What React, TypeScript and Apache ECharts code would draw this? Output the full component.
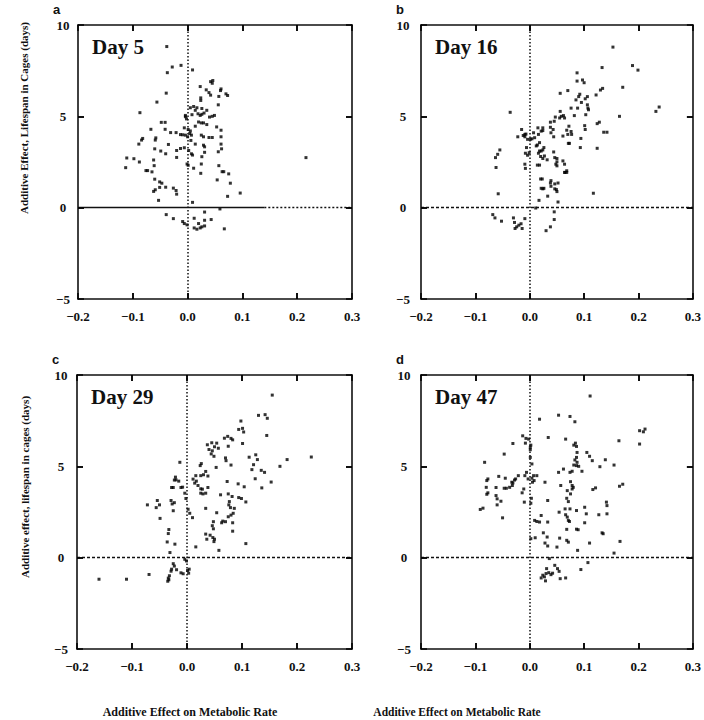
import React, { useEffect, useRef } from "react";
import * as echarts from "echarts";

// x: additive effect on metabolic rate, y: additive effect on lifespan (days)
const day5: number[][] = [
  [-0.038,8.82],[-0.037,7.39],[-0.028,7.70],[-0.012,7.79],[0.009,7.54],
  [0.042,6.90],[0.046,6.96],[0.045,6.81],
  [0.023,6.63],[0.034,6.45],[0.039,6.30],[0.042,6.16],[0.061,6.50],[0.060,6.41],[0.070,6.23],[0.073,6.14],[-0.039,6.27],[0.024,6.01],[0.024,5.87],[0.057,6.09],
  [-0.056,5.78],[0.056,5.63],[0.005,5.47],[0.011,5.54],[0.017,5.47],[0.019,5.14],[0.014,5.33],[0.026,5.43],[0.030,5.18],[0.035,5.33],[0.023,5.05],[0.026,5.11],[0.040,4.96],[0.045,5.00],[0.049,5.05],[-0.087,5.20],[-0.004,4.98],[-0.002,4.86],[0.008,5.09],[-0.004,5.05],
  [-0.048,4.67],[-0.041,4.67],[0.053,4.42],[0.061,4.24],[0.035,4.55],[0.029,4.64],[0.025,4.64],[0.020,4.69],[0.014,4.46],[-0.067,4.29],[-0.041,4.29],[-0.031,4.11],[-0.021,4.11],[-0.006,4.37],[0.001,4.28],[0.005,4.20],[-0.013,4.00],[-0.009,3.99],[-0.004,3.97],[0.0,3.88],[0.004,4.06],[0.007,3.97],[0.025,3.97],[0.029,3.88],[0.039,3.84],[0.045,3.84],[0.061,3.88],[-0.082,3.79],[-0.058,3.82],
  [-0.084,3.70],[-0.059,3.70],[-0.089,3.48],[-0.035,3.46],[0.006,3.68],[0.014,3.48],[0.029,3.42],[0.031,3.33],[0.061,3.48],[0.062,3.22],[0.056,3.06],[-0.060,3.22],[-0.049,3.10],[-0.040,2.95],[-0.020,3.13],[-0.013,3.24],[-0.006,3.28],[0.002,3.13],[0.007,2.95],[0.009,2.88],[0.031,3.03],[0.026,2.79],[-0.111,2.72],[-0.098,2.68],[-0.062,2.61],[-0.020,2.75],
  [-0.113,2.19],[-0.088,2.50],[-0.061,2.30],[-0.076,2.03],[-0.073,2.03],[-0.065,1.96],[-0.001,2.39],[0.001,2.32],[0.011,2.16],[0.025,2.39],[0.024,1.88],[0.057,2.30],[0.063,1.97],[0.066,1.97],[0.075,1.85],[0.054,1.52],[0.078,1.34],[-0.060,1.56],[-0.051,1.41],[-0.047,1.34],
  [-0.062,0.89],[-0.059,0.98],[-0.051,1.11],[-0.040,1.12],[-0.026,1.07],[-0.021,0.94],[-0.020,0.74],[-0.053,0.40],[0.009,0.29],[0.073,0.62],[0.096,0.80],[0.216,2.74],
  [-0.039,-0.38],[-0.026,-0.60],[-0.009,-0.76],[-0.006,-0.87],[-0.001,-0.94],[0.012,-0.58],[0.012,-1.11],[0.017,-1.18],[0.020,-0.87],[0.023,-1.11],[0.026,-1.05],[0.031,-1.00],[0.031,-0.69],[0.031,-0.24],[0.043,-0.65],[0.059,-0.07],[0.067,-1.16]
];

const day16: number[][] = [
  [-0.036,5.22],[0.153,8.79],[0.189,7.78],[0.199,7.53],[0.133,7.67],[0.171,6.59],[0.087,7.38],[0.097,6.99],[0.100,6.84],[0.087,6.93],[0.070,6.41],[0.056,6.26],[0.134,6.53],[0.130,6.44],[0.122,6.17],[0.092,6.21],[0.090,6.08],[0.106,6.08],[0.102,5.96],[0.085,5.90],[0.095,5.76],[0.106,5.63],[0.107,5.45],[0.108,5.36],[0.076,5.45],[0.088,5.45],[0.103,5.09],[0.082,5.04],[0.056,5.27],[0.058,5.00],[0.055,4.91],[0.062,5.04],[0.064,4.91],[0.047,4.96],[0.045,4.73],[0.038,4.68],[0.038,4.40],[0.039,4.10],[0.232,5.27],[0.238,5.51],[0.165,5.00],[0.128,4.68],[0.124,4.60],[0.101,4.49],[0.102,4.28],[0.136,4.13],[0.142,4.13],[0.124,3.25],[0.094,3.79],[0.093,3.29],[0.072,4.46],[0.068,4.24],[0.070,4.01],[0.061,3.92],[0.076,4.17],[0.077,4.01],[0.071,3.52],[0.073,3.52],[0.043,4.28],[0.044,3.88],[0.024,4.37],[0.024,4.22],[0.015,4.37],[0.021,4.19],[0.016,4.01],[0.007,4.10],[0.009,3.83],[0.004,3.77],[0.001,3.74],[-0.004,3.74],[-0.009,4.01],[-0.012,3.95],[-0.009,3.88],[-0.022,3.88],[-0.015,4.28],[-0.007,4.03],[-0.006,3.29],[-0.008,2.98],[-0.004,2.87],[-0.009,2.38],[-0.008,2.15],[-0.001,3.01],[0.018,3.56],[0.014,3.43],[0.012,3.38],[0.026,3.29],[0.024,3.16],[0.021,3.10],[0.018,3.10],[0.016,2.98],[0.020,2.80],[0.024,2.69],[0.014,2.33],[0.018,2.33],[0.027,2.83],[0.032,2.62],[0.044,3.05],[0.046,2.74],[0.050,2.69],[0.050,2.51],[0.048,2.38],[0.050,2.29],[0.061,2.56],[0.064,2.38],[0.068,2.02],[0.065,1.93],[0.068,1.93],[0.064,1.93],[0.020,1.57],[0.023,1.57],[0.021,1.06],[0.024,1.03],[0.026,1.06],[0.017,0.40],[0.033,0.63],[0.039,1.48],[0.038,1.35],[0.039,1.17],[0.046,1.30],[0.046,1.03],[0.049,0.99],[0.050,0.88],[0.052,1.35],[0.052,0.31],[0.117,0.79],[-0.058,0.76],[-0.063,2.74],[-0.059,2.92],[-0.055,3.16],[-0.062,2.20],
  [-0.068,-0.38],[-0.064,-0.56],[-0.052,-0.74],[-0.030,-0.56],[-0.028,-0.81],[-0.024,-1.05],[-0.027,-1.14],[-0.020,-0.96],[-0.016,-0.88],[-0.014,-1.14],[-0.009,-0.60],[0.011,-0.02],[0.045,-0.23],[0.045,-0.65],[0.038,-1.05],[0.030,-1.26]
];

const day29: number[][] = [
  [0.155,8.90],[0.130,7.79],[0.142,7.83],[0.146,7.63],[0.098,7.48],[0.094,7.02],[0.101,7.08],[0.103,6.88],[0.145,6.69],[0.068,6.54],[0.074,6.64],[0.080,6.53],[0.083,6.45],[0.037,6.18],[0.045,6.29],[0.050,6.07],[0.054,6.27],[0.101,6.25],[0.075,6.10],[0.040,5.92],[0.046,5.85],[0.057,5.99],[0.044,5.68],[0.049,5.55],[0.113,5.50],[0.125,5.63],[0.128,5.37],[0.070,5.46],[0.071,5.31],[0.026,5.15],[0.024,5.04],[0.053,4.94],[0.080,5.07],[0.121,5.09],[0.118,4.82],[0.169,5.00],[0.182,5.37],[0.226,5.51],[-0.013,5.22],[0.135,4.78],[0.141,4.67],[0.034,4.72],[0.030,4.54],[0.038,4.47],[0.025,4.49],[-0.021,4.41],[0.016,4.49],[0.011,4.30],[0.014,4.08],[0.017,4.19],[-0.020,4.26],[-0.015,4.19],[-0.023,4.25],[0.124,4.32],[0.153,4.14],[0.073,4.17],[0.093,4.04],[0.104,3.88],[0.136,3.82],[-0.011,3.84],[-0.008,3.86],[-0.028,3.84],[-0.025,3.84],[0.020,3.95],[0.025,3.77],[0.028,3.75],[0.038,3.84],[-0.004,3.53],[-0.002,3.24],[0.025,3.53],[0.029,3.49],[0.034,3.53],[0.061,3.44],[0.075,3.49],[0.082,3.35],[0.094,3.29],[0.099,3.24],[0.107,3.05],[-0.029,3.13],[-0.027,2.94],[-0.023,3.01],[-0.025,2.57],[0.077,3.07],[0.076,2.89],[0.079,2.74],[0.034,2.70],[0.002,2.65],[0.005,2.43],[-0.072,2.89],[-0.054,3.13],[-0.050,2.89],[-0.056,2.74],[0.086,2.70],[0.054,2.46],[0.084,2.43],[0.080,2.33],[0.075,2.24],[0.070,1.97],[0.063,1.91],[0.065,2.00],[0.048,1.97],[0.010,2.19],[-0.049,2.15],[0.083,1.91],[0.046,1.75],[0.048,1.58],[0.083,1.45],[0.042,1.23],[0.047,1.10],[0.050,1.01],[0.049,0.88],[0.034,1.29],[0.036,1.01],[-0.033,1.54],[-0.034,1.32],[-0.036,0.86],[-0.022,0.74],[0.016,0.59],[0.058,0.40],[0.107,0.77],[-0.031,0.28],
  [-0.004,-0.09],[-0.001,-0.18],[-0.025,-0.33],[-0.023,-0.46],[-0.028,-0.63],[-0.029,-0.74],[-0.019,-0.66],[-0.011,-0.83],[-0.007,-0.88],[0.001,-0.70],[0.004,-0.63],[0.003,-0.85],[-0.032,-0.99],[-0.034,-1.12],[-0.035,-1.29],[-0.033,-1.21],[-0.160,-1.18],[-0.110,-1.18],[-0.069,-0.92]
];

const day47: number[][] = [
  [0.111,8.85],[0.018,7.58],[0.053,7.80],[0.074,7.73],[0.083,7.44],[0.034,6.58],[-0.013,6.67],[-0.007,6.53],[-0.002,6.49],[0.002,6.16],[0.001,6.04],[0.001,5.91],[-0.008,6.27],[-0.031,6.25],[0.066,6.49],[0.081,6.16],[0.086,6.09],[0.084,6.27],[0.087,5.76],[0.086,5.49],[0.083,5.35],[0.087,5.22],[0.090,5.00],[0.086,5.04],[0.081,5.07],[0.096,4.73],[0.105,5.76],[0.110,5.55],[0.115,5.31],[0.129,4.98],[0.139,5.36],[0.155,5.07],[0.164,6.40],[0.202,6.95],[0.209,6.89],[0.212,7.04],[0.202,6.22],[0.165,3.91],[0.171,4.02],[-0.047,5.67],[-0.083,5.22],[0.001,5.49],[0.004,5.13],
  [-0.006,4.67],[-0.009,4.49],[-0.003,4.31],[0.004,4.35],[0.007,4.49],[0.013,4.49],[0.008,4.22],[0.005,4.13],[-0.021,4.49],[-0.026,4.31],[-0.028,4.25],[-0.033,4.13],[-0.031,4.09],[-0.045,4.35],[-0.032,3.95],[-0.057,4.45],[-0.077,4.31],[-0.079,4.22],[-0.080,3.85],[-0.077,3.55],[-0.079,3.47],[-0.062,3.84],[-0.062,3.40],[-0.037,3.85],[-0.043,3.80],[-0.047,3.80],[-0.014,3.55],[-0.010,3.04],[-0.011,3.76],[0.003,3.25],[0.002,2.98],[-0.086,2.71],[-0.091,2.64],[-0.060,3.22],[-0.053,3.09],[-0.060,2.89],[-0.050,2.18],
  [0.028,4.13],[0.033,3.13],[0.054,2.49],[0.057,3.95],[0.062,4.85],[0.053,4.67],[0.074,4.67],[0.078,4.73],[0.075,4.16],[0.078,3.95],[0.078,3.76],[0.080,3.85],[0.075,3.49],[0.069,3.67],[0.068,3.25],[0.071,3.07],[0.065,2.67],[0.066,2.35],[0.069,2.22],[0.071,2.04],[0.073,1.98],[0.068,1.55],[0.074,2.67],[0.086,2.58],[0.101,2.76],[0.104,2.40],[0.101,1.91],[0.116,3.73],[0.121,3.82],[0.127,2.35],[0.141,3.04],[0.142,2.85],[0.142,2.40],[0.133,1.36],[0.135,1.31],[0.086,1.56],[0.089,1.53],[0.088,0.40],[0.110,0.80],[0.107,-0.27],[0.094,-0.65],[0.155,0.25],[0.166,0.89],
  [0.009,2.04],[0.013,1.98],[0.018,1.95],[0.021,2.31],[0.033,1.95],[0.025,1.36],[0.032,1.13],[0.033,0.64],[0.002,1.04],[0.010,1.09],[0.028,0.80],[0.055,1.07],[0.068,0.95],[0.071,0.85],[0.036,-0.05],[0.050,0.58],
  [0.021,-1.11],[0.024,-0.96],[0.027,-1.05],[0.029,-1.27],[0.031,-0.60],[0.030,-0.87],[0.035,-0.82],[0.039,-0.93],[0.042,-0.85],[0.046,-0.42],[0.051,-0.60],[0.054,-0.75],[0.056,-1.15],[0.066,-1.11]
];

const panelLetters = ["a", "b", "c", "d"];
const panelTitles = ["Day 5", "Day 16", "Day 29", "Day 47"];
const panelData = [day5, day16, day29, day47];
const xRange = [-0.2, 0.3];
const yRange = [-5, 10];
const xStep = 0.1;
const yStep = 5;
const xInnerTicks = [-0.1, 0.0, 0.1, 0.2];
const yInnerTicks = [0, 5];
const xTitle = "Additive Effect on Metabolic Rate";
const yTitleTop = "Additive Effect, Lifespan in Cages (days)";
const yTitleBottom = "Additive effect, lifespan in cages (days)";

const SERIF = "'Liberation Serif', 'Times New Roman', serif";
const SANS = "'Liberation Sans', Arial, sans-serif";
const TICK_PX = 6;

const layout = [
  { left: 78, top: 25, width: 274, height: 274, yMargin: 15, solidTo: 0.14 },
  { left: 421, top: 25, width: 275, height: 274, yMargin: 18, solidTo: null },
  { left: 77, top: 375, width: 275, height: 274, yMargin: 16, solidTo: null },
  { left: 421, top: 375, width: 274, height: 274, yMargin: 17, solidTo: null },
];

const mkTick = () => ({ show: true, inside: true, length: TICK_PX, lineStyle: { color: "#000", width: 1.5 } });
const mkLine = () => ({ show: true, onZero: false, lineStyle: { color: "#111", width: 1.6 } });
const mkFont = () => ({ fontFamily: SERIF, fontWeight: "bold" as const, fontSize: 13, color: "#111" });

export default function App() {
  const ref = useRef<HTMLDivElement>(null);
  useEffect(() => {
    if (!ref.current) return;
    const chart = echarts.init(ref.current, null, { renderer: "svg" });
    const grids: any[] = [];
    const xAxes: any[] = [];
    const yAxes: any[] = [];
    const series: any[] = [];
    const graphics: any[] = [];

    layout.forEach((L, i) => {
      grids.push({ left: L.left, top: L.top, width: L.width, height: L.height, show: false });
      xAxes.push({
        type: "value", gridIndex: i, min: xRange[0], max: xRange[1], interval: xStep, position: "bottom",
        splitLine: { show: false }, axisLine: mkLine(), axisTick: mkTick(),
        axisLabel: { ...mkFont(), margin: 11, formatter: (v: number) => (Math.round(v * 10) / 10).toFixed(1).replace("-", "\u2212") },
      });
      xAxes.push({
        type: "value", gridIndex: i, min: xRange[0], max: xRange[1], interval: xStep, position: "top",
        splitLine: { show: false }, axisLine: mkLine(), axisTick: mkTick(), axisLabel: { show: false },
      });
      yAxes.push({
        type: "value", gridIndex: i, min: yRange[0], max: yRange[1], interval: yStep, position: "left",
        splitLine: { show: false }, axisLine: mkLine(), axisTick: mkTick(),
        axisLabel: { ...mkFont(), align: "center", margin: L.yMargin, formatter: (v: number) => String(v).replace("-", "\u2212") },
      });
      yAxes.push({
        type: "value", gridIndex: i, min: yRange[0], max: yRange[1], interval: yStep, position: "right",
        splitLine: { show: false }, axisLine: mkLine(), axisTick: mkTick(), axisLabel: { show: false },
      });

      const lineData: any[] = [];
      if (L.solidTo != null) {
        lineData.push([{ coord: [xRange[0], 0], lineStyle: { type: "solid", width: 1.3 } }, { coord: [L.solidTo, 0] }]);
        lineData.push([{ coord: [L.solidTo, 0], lineStyle: { type: [2, 2], width: 1.3 } }, { coord: [xRange[1], 0] }]);
      } else {
        lineData.push([{ coord: [xRange[0], 0], lineStyle: { type: [3, 2], width: 1.3 } }, { coord: [xRange[1], 0] }]);
      }
      lineData.push([{ coord: [0, yRange[0]], lineStyle: { type: [1.5, 2], width: 1.5 } }, { coord: [0, yRange[1]] }]);

      // inward tick marks on all four sides, placed at the axis tick values
      const tyLen = (TICK_PX / L.height) * (yRange[1] - yRange[0]);
      const txLen = (TICK_PX / L.width) * (xRange[1] - xRange[0]);
      const tickLine = { type: "solid", width: 1.5, color: "#000" };
      xInnerTicks.forEach((xt) => {
        lineData.push([{ coord: [xt, yRange[0]], lineStyle: tickLine }, { coord: [xt, yRange[0] + tyLen] }]);
        lineData.push([{ coord: [xt, yRange[1]], lineStyle: tickLine }, { coord: [xt, yRange[1] - tyLen] }]);
      });
      yInnerTicks.forEach((yt) => {
        lineData.push([{ coord: [xRange[0], yt], lineStyle: tickLine }, { coord: [xRange[0] + txLen, yt] }]);
        lineData.push([{ coord: [xRange[1], yt], lineStyle: tickLine }, { coord: [xRange[1] - txLen, yt] }]);
      });

      series.push({
        type: "scatter",
        xAxisIndex: i * 2,
        yAxisIndex: i * 2,
        data: panelData[i],
        symbol: "rect",
        symbolSize: 3,
        itemStyle: { color: "#000" },
        silent: true,
        markLine: {
          silent: true,
          symbol: ["none", "none"],
          label: { show: false },
          lineStyle: { color: "#111" },
          data: lineData,
        },
      });

      graphics.push({
        type: "text", left: L.left - 25, top: L.top - 22,
        style: { text: panelLetters[i], font: `bold 13px ${SANS}`, fill: "#111" },
      });
      graphics.push({
        type: "text", left: L.left + 14, top: L.top + 11,
        style: { text: panelTitles[i], font: `bold 21px ${SERIF}`, fill: "#111" },
      });
    });

    graphics.push({
      type: "text", x: 190, y: 712,
      style: { text: xTitle, font: `bold 12px ${SERIF}`, fill: "#111", align: "center", verticalAlign: "middle" },
    });
    graphics.push({
      type: "text", x: 457, y: 712,
      style: { text: xTitle, font: `bold 11.5px ${SERIF}`, fill: "#111", align: "center", verticalAlign: "middle" },
    });
    graphics.push({
      type: "text", x: 24, y: 118, rotation: Math.PI / 2,
      style: { text: yTitleTop, font: `bold 11px ${SERIF}`, fill: "#111", align: "center", verticalAlign: "middle" },
    });
    graphics.push({
      type: "text", x: 25, y: 487, rotation: Math.PI / 2,
      style: { text: yTitleBottom, font: `bold 11px ${SERIF}`, fill: "#111", align: "center", verticalAlign: "middle" },
    });

    chart.setOption({
      animation: false,
      backgroundColor: "#fff",
      grid: grids,
      xAxis: xAxes,
      yAxis: yAxes,
      series,
      graphic: graphics,
    });
    return () => chart.dispose();
  }, []);
  return <div ref={ref} style={{ position: "absolute", left: 0, top: 0, width: 704, height: 720 }} />;
}
